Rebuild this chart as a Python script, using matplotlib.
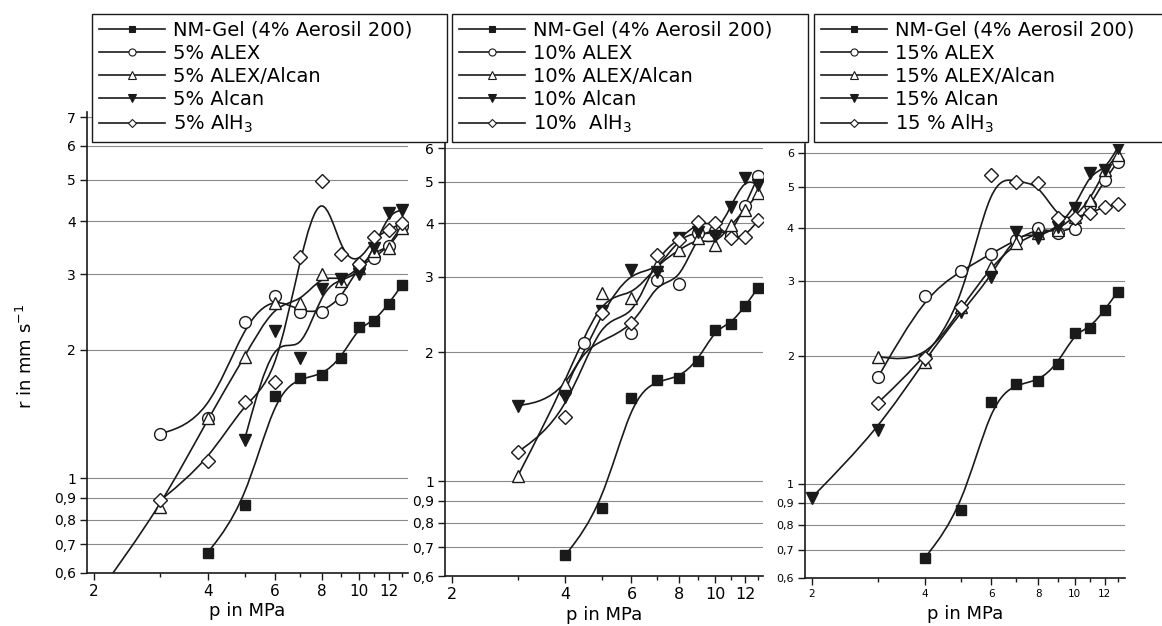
import numpy as np
import matplotlib
matplotlib.use('Agg')
import matplotlib.pyplot as plt
import matplotlib.ticker as ticker
from matplotlib.path import Path
from matplotlib.patches import PathPatch
from matplotlib.lines import Line2D

plt.rcParams['font.family'] = 'DejaVu Sans'
plt.rcParams['mathtext.default'] = 'regular'

# reference gel (same in all panels)
p_gel = [4, 5, 6, 7, 8, 9, 10, 11, 12, 13]
r_gel = [0.67, 0.865, 1.56, 1.72, 1.74, 1.91, 2.26, 2.33, 2.56, 2.83]

# 5 % panel
p5_alex = [3, 4, 5, 6, 7, 8, 9, 10, 11, 12, 13]
r5_alex = [1.27, 1.38, 2.32, 2.67, 2.45, 2.45, 2.63, 3.15, 3.27, 3.5, 3.9]
p5_alexalcan = [2, 3, 4, 5, 6, 7, 8, 9, 10, 11, 12, 13]
r5_alexalcan = [0.52, 0.855, 1.38, 1.92, 2.57, 2.57, 3.0, 2.89, 3.1, 3.4, 3.45, 3.85]
p5_alcan = [5, 6, 7, 8, 9, 10, 11, 12, 13]
r5_alcan = [1.23, 2.21, 1.91, 2.77, 2.92, 3.0, 3.46, 4.17, 4.24]
p5_alh3 = [3, 4, 5, 6, 7, 8, 9, 10, 11, 12, 13]
r5_alh3 = [0.888, 1.096, 1.506, 1.68, 3.29, 4.96, 3.35, 3.17, 3.67, 3.81, 3.96]

# 10 % panel
p10_alex = [4, 4.5, 6, 7, 8, 9, 10, 11, 12, 13]
r10_alex = [1.62, 2.1, 2.22, 2.95, 2.89, 3.8, 3.85, 3.75, 4.4, 5.15]
p10_alexalcan = [3, 4, 5, 6, 7, 8, 9, 10, 11, 12, 13]
r10_alexalcan = [1.03, 1.69, 2.75, 2.68, 3.2, 3.46, 3.7, 3.56, 3.96, 4.3, 4.7]
p10_alcan = [3, 4, 5, 6, 7, 8, 9, 10, 11, 12, 13]
r10_alcan = [1.5, 1.57, 2.5, 3.11, 3.08, 3.7, 3.82, 3.74, 4.37, 5.1, 4.92]
p10_alh3 = [3, 4, 5, 6, 7, 8, 9, 10, 11, 12, 13]
r10_alh3 = [1.17, 1.41, 2.47, 2.34, 3.37, 3.66, 4.03, 4.0, 3.7, 3.72, 4.07]

# 15 % panel
p15_alex = [3, 4, 5, 6, 7, 8, 9, 10, 11, 12, 13]
r15_alex = [1.78, 2.77, 3.17, 3.48, 3.75, 4.0, 3.9, 3.98, 4.53, 5.17, 5.72]
p15_alexalcan = [3, 4, 5, 6, 7, 8, 9, 10, 11, 12, 13]
r15_alexalcan = [1.99, 1.93, 2.6, 3.24, 3.69, 3.9, 3.95, 4.25, 4.66, 5.47, 5.95]
p15_alcan = [2, 3, 4, 5, 6, 7, 8, 9, 10, 11, 12, 13]
r15_alcan = [0.927, 1.34, 1.96, 2.54, 3.07, 3.92, 3.79, 4.02, 4.46, 5.39, 5.47, 6.17]
p15_alh3 = [3, 4, 5, 6, 7, 8, 9, 10, 11, 12, 13]
r15_alh3 = [1.55, 1.98, 2.6, 5.33, 5.13, 5.1, 4.22, 4.22, 4.34, 4.48, 4.55]

labels5 = ['NM-Gel (4% Aerosil 200)', '5% ALEX', '5% ALEX/Alcan', '5% Alcan', '5% AlH$_3$']
labels10 = ['NM-Gel (4% Aerosil 200)', '10% ALEX', '10% ALEX/Alcan', '10% Alcan', '10%  AlH$_3$']
labels15 = ['NM-Gel (4% Aerosil 200)', '15% ALEX', '15% ALEX/Alcan', '15% Alcan', '15 % AlH$_3$']

x_major = [2, 4, 6, 8, 10, 12]
x_minor = [3, 5, 7, 9, 11, 13]
y_ticks = [0.6, 0.7, 0.8, 0.9, 1, 2, 3, 4, 5, 6, 7]
y_labels = ['0,6', '0,7', '0,8', '0,9', '1', '2', '3', '4', '5', '6', '7']

ink = '#1a1a1a'
styles = [dict(marker='s', ms=7.5, mfc=ink),
          dict(marker='o', ms=8.5, mfc='white'),
          dict(marker='^', ms=9, mfc='white'),
          dict(marker='v', ms=9, mfc=ink),
          dict(marker='D', ms=7, mfc='white')]


def bspline(ax, p, r):
    # cubic B-spline (end points clamped) drawn as bezier segments in log space
    x = np.log10(p)
    y = np.log10(r)
    x = np.r_[x[0], x[0], x, x[-1], x[-1]]
    y = np.r_[y[0], y[0], y, y[-1], y[-1]]
    q = np.column_stack([x, y])
    verts = [(q[0] + 4 * q[1] + q[2]) / 6]
    for i in range(len(q) - 3):
        verts.append((2 * q[i + 1] + q[i + 2]) / 3)
        verts.append((q[i + 1] + 2 * q[i + 2]) / 3)
        verts.append((q[i + 1] + 4 * q[i + 2] + q[i + 3]) / 6)
    verts = 10 ** np.array(verts)
    codes = [Path.MOVETO] + [Path.CURVE4] * (len(verts) - 1)
    ax.add_patch(PathPatch(Path(verts, codes), fill=False, ec=ink, lw=1.2, zorder=2))


fig = plt.figure(figsize=(11.62, 6.26), dpi=100)
W, H = 1162, 626

panels = [
    dict(series=[(p_gel, r_gel), (p5_alex, r5_alex), (p5_alexalcan, r5_alexalcan),
                 (p5_alcan, r5_alcan), (p5_alh3, r5_alh3)],
         labels=labels5, box=(87, 573, 321, 461), xmax=13.5, ymax=7.2,
         ysize=10, xsize=11, leg=(92, 14, 355, 128),
         xlab=(0.5, -0.063), ylab=True),
    dict(series=[(p_gel, r_gel), (p10_alex, r10_alex), (p10_alexalcan, r10_alexalcan),
                 (p10_alcan, r10_alcan), (p10_alh3, r10_alh3)],
         labels=labels10, box=(445, 576, 318, 434), xmax=13.4, ymax=6.2,
         ysize=10, xsize=11.5, leg=(452, 14, 356, 126),
         xlab=(0.5, -0.07), ylab=False),
    dict(series=[(p_gel, r_gel), (p15_alex, r15_alex), (p15_alexalcan, r15_alexalcan),
                 (p15_alcan, r15_alcan), (p15_alh3, r15_alh3)],
         labels=labels15, box=(805, 578, 320, 434), xmax=13.6, ymax=6.3,
         ysize=8, xsize=7.5, leg=(814, 14, 372, 126),
         xlab=(0.5, -0.062), ylab=False),
]

for pan in panels:
    left, bottom, w, h = pan['box']
    ax = fig.add_axes([left / W, 1 - bottom / H, w / W, h / H])
    ax.set_xscale('log')
    ax.set_yscale('log')
    for (p, r), st in zip(pan['series'], styles):
        bspline(ax, p, r)
        ax.plot(p, r, ls='none', mec=ink, mew=1.0, zorder=3, **st)
    ax.set_xlim(1.92, pan['xmax'])
    ax.set_ylim(0.6, pan['ymax'])

    ax.set_xticks(x_major, [str(v) for v in x_major])
    ax.set_xticks(x_minor, minor=True)
    ax.xaxis.set_minor_formatter(ticker.NullFormatter())
    yt = [v for v in y_ticks if v <= pan['ymax']]
    ax.set_yticks(yt, y_labels[:len(yt)])
    ax.yaxis.set_minor_locator(ticker.NullLocator())
    ax.grid(axis='y', which='major', color='#8a8a8a', lw=0.8)
    ax.spines[['top', 'right']].set_visible(False)
    for s in ['left', 'bottom']:
        ax.spines[s].set_linewidth(1.2)
        ax.spines[s].set_color(ink)
    ax.tick_params(which='major', direction='out', length=5, width=1, color=ink, pad=3)
    ax.tick_params(which='minor', direction='out', length=3, width=1, color=ink)
    ax.tick_params(axis='y', labelsize=pan['ysize'])
    ax.tick_params(axis='x', labelsize=pan['xsize'])

    ax.set_xlabel('p in MPa', fontsize=13)
    ax.xaxis.set_label_coords(*pan['xlab'])
    if pan['ylab']:
        ax.set_ylabel('r in mm s$^{-1}$', fontsize=13)
        ax.yaxis.set_label_coords(-0.16, 0.47)

    lx, ly, lw_, lh = pan['leg']
    handles = [Line2D([], [], color=ink, lw=1.2, marker=st['marker'], ms=st['ms'] * 0.6,
                      mfc=st['mfc'], mec=ink, mew=0.8) for st in styles]
    leg = fig.legend(handles, pan['labels'], loc='upper left',
                     bbox_to_anchor=(lx / W, 1 - (ly + lh) / H, lw_ / W, lh / H),
                     bbox_transform=fig.transFigure, mode='expand', borderaxespad=0,
                     fancybox=False, edgecolor=ink, framealpha=1, fontsize=14,
                     handlelength=3.4, handletextpad=0.4, labelspacing=0.21, borderpad=0.35)
    leg.get_frame().set_linewidth(1.0)

fig.savefig('out.png', dpi=100)
